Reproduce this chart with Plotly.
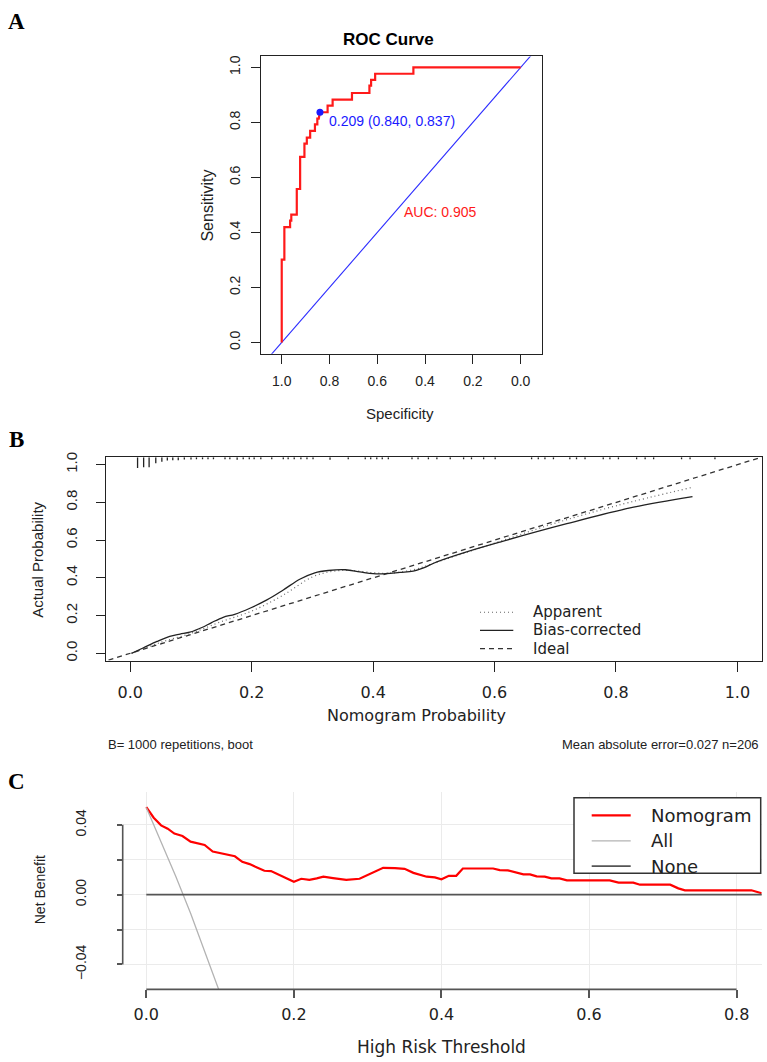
import plotly.graph_objects as go

W, H = 767, 1062

# ---------------- Panel A : ROC curve ----------------
roc_spec = [1.0, 1.0, 0.989, 0.989, 0.965, 0.965, 0.960, 0.960, 0.937, 0.937,
            0.923, 0.923, 0.905, 0.905, 0.895, 0.895, 0.881, 0.881, 0.861, 0.861,
            0.851, 0.851, 0.845, 0.840, 0.808, 0.808, 0.787, 0.787, 0.706, 0.706,
            0.633, 0.633, 0.626, 0.626, 0.609, 0.609, 0.449, 0.449, 0.0]
roc_sens = [0.0, 0.301, 0.301, 0.419, 0.419, 0.443, 0.443, 0.465, 0.465, 0.558,
            0.558, 0.675, 0.675, 0.723, 0.723, 0.745, 0.745, 0.769, 0.769, 0.793,
            0.793, 0.814, 0.814, 0.837, 0.837, 0.861, 0.861, 0.883, 0.883, 0.907,
            0.907, 0.934, 0.934, 0.955, 0.955, 0.977, 0.977, 1.0, 1.0]
diag_spec = [1.1, -0.1]
diag_sens = [-0.1, 1.1]
best_spec = [0.840]
best_sens = [0.837]
best_label = "0.209 (0.840, 0.837)"
auc_label = "AUC: 0.905"
roc_ticks = [0.0, 0.2, 0.4, 0.6, 0.8, 1.0]

# ---------------- Panel B : calibration ----------------
bias_x = [0.002, 0.021, 0.044, 0.065, 0.082, 0.098, 0.118, 0.134, 0.153, 0.172,
          0.197, 0.225, 0.252, 0.280, 0.304, 0.326, 0.354, 0.378, 0.400, 0.422,
          0.444, 0.466, 0.483, 0.505, 0.554, 0.609, 0.719, 0.829, 0.926]
bias_y = [0.000, 0.028, 0.063, 0.090, 0.102, 0.112, 0.137, 0.163, 0.191, 0.207,
          0.239, 0.283, 0.336, 0.394, 0.427, 0.439, 0.443, 0.432, 0.422, 0.422,
          0.429, 0.436, 0.453, 0.485, 0.538, 0.590, 0.687, 0.775, 0.831]
app_x = [0.002, 0.050, 0.100, 0.150, 0.200, 0.250, 0.300, 0.330, 0.360, 0.400,
         0.430, 0.470, 0.500, 0.600, 0.700, 0.800, 0.926]
app_y = [0.000, 0.058, 0.106, 0.168, 0.224, 0.305, 0.405, 0.433, 0.440, 0.427,
         0.425, 0.446, 0.478, 0.584, 0.690, 0.782, 0.880]
ideal_x = [-0.05, 1.05]
ideal_y = [-0.05, 1.05]
rug_x = [0.012, 0.022, 0.031, 0.042, 0.052, 0.061, 0.070, 0.079, 0.089, 0.100,
         0.109, 0.119, 0.128, 0.137, 0.156, 0.164, 0.176, 0.186, 0.196, 0.204,
         0.215, 0.233, 0.252, 0.260, 0.270, 0.281, 0.291, 0.301, 0.329, 0.359,
         0.387, 0.396, 0.406, 0.415, 0.425, 0.464, 0.474, 0.491, 0.505, 0.527,
         0.549, 0.562, 0.582, 0.601, 0.661, 0.672, 0.683, 0.697, 0.724, 0.735,
         0.749, 0.779, 0.790, 0.804, 0.834, 0.848, 0.862, 0.908, 0.922, 0.963]
rug_len = [0.058, 0.053, 0.053, 0.032, 0.024, 0.018, 0.016, 0.016, 0.013, 0.013,
           0.011, 0.011, 0.011, 0.011, 0.011, 0.011, 0.014, 0.011, 0.011, 0.011,
           0.011, 0.011, 0.011, 0.011, 0.011, 0.011, 0.011, 0.011, 0.014, 0.011,
           0.011, 0.011, 0.011, 0.011, 0.011, 0.011, 0.011, 0.011, 0.011, 0.011,
           0.011, 0.011, 0.011, 0.011, 0.011, 0.011, 0.011, 0.011, 0.011, 0.011,
           0.011, 0.011, 0.011, 0.011, 0.011, 0.011, 0.011, 0.011, 0.011, 0.011]
cal_ticks = [0.0, 0.2, 0.4, 0.6, 0.8, 1.0]
legend_b = ["Apparent", "Bias-corrected", "Ideal"]
note_left = "B= 1000 repetitions, boot"
note_right = "Mean absolute error=0.027 n=206"

# ---------------- Panel C : decision curve ----------------
nomo_x = [0.0, 0.010, 0.020, 0.029, 0.038, 0.049, 0.060, 0.070, 0.079, 0.090,
          0.099, 0.111, 0.120, 0.130, 0.140, 0.150, 0.160, 0.169, 0.181, 0.191,
          0.200, 0.210, 0.221, 0.231, 0.240, 0.253, 0.271, 0.289, 0.305, 0.321,
          0.337, 0.350, 0.362, 0.380, 0.391, 0.400, 0.410, 0.420, 0.429, 0.470,
          0.479, 0.490, 0.511, 0.520, 0.529, 0.540, 0.549, 0.560, 0.570, 0.628,
          0.640, 0.660, 0.669, 0.710, 0.721, 0.730, 0.820, 0.834]
nomo_y = [0.0501, 0.0441, 0.0397, 0.0378, 0.0350, 0.0336, 0.0304, 0.0296, 0.0285, 0.0247,
          0.0240, 0.0228, 0.0220, 0.0188, 0.0175, 0.0156, 0.0137, 0.0135, 0.0112, 0.0091,
          0.0074, 0.0091, 0.0085, 0.0093, 0.0103, 0.0095, 0.0085, 0.0091, 0.0122, 0.0154,
          0.0152, 0.0148, 0.0125, 0.0103, 0.0099, 0.0088, 0.0108, 0.0108, 0.0150, 0.0150,
          0.0141, 0.0139, 0.0116, 0.0116, 0.0105, 0.0103, 0.0093, 0.0093, 0.0082, 0.0082,
          0.0069, 0.0069, 0.0057, 0.0057, 0.0036, 0.0025, 0.0025, 0.0008]
all_x = [0.0, 0.02, 0.04, 0.06, 0.08, 0.10, 0.12]
all_y = [0.0500, 0.0306, 0.0104, -0.0106, -0.0326, -0.0556, -0.0795]
none_x = [0.0, 0.9]
none_y = [0.0, 0.0]
dca_xticks = [0.0, 0.2, 0.4, 0.6, 0.8]
dca_yticks = [-0.04, -0.02, 0.0, 0.02, 0.04]
dca_ylabels = ["\u22120.04", "", "0.00", "", "0.04"]
legend_c = ["Nomogram", "All", "None"]

ARIAL = "Liberation Sans, Arial, sans-serif"
DEJAVU = "DejaVu Sans, sans-serif"
SERIF = "Liberation Serif, Times New Roman, serif"

RED = "#ff0000"
ALLGRAY = "#b3b3b3"
NONEGRAY = "#555555"


def px_x(p):
    return p / W


def px_y(p):
    return 1 - p / H


fig = go.Figure()

# ---- A traces
fig.add_trace(go.Scatter(x=diag_spec, y=diag_sens, mode="lines",
                         line=dict(color="#2b2bff", width=1.1),
                         xaxis="x", yaxis="y", showlegend=False, hoverinfo="skip"))
fig.add_trace(go.Scatter(x=roc_spec, y=roc_sens, mode="lines", name="ROC",
                         line=dict(color="#ff1a1a", width=2.2),
                         xaxis="x", yaxis="y", showlegend=False))
fig.add_trace(go.Scatter(x=best_spec, y=best_sens, mode="markers", name="Best threshold",
                         marker=dict(color="#1a1aff", size=7),
                         xaxis="x", yaxis="y", showlegend=False))

# ---- B traces
rx, ry = [], []
for xv, lv in zip(rug_x, rug_len):
    rx += [xv, xv, None]
    ry += [1.04, 1.04 - lv, None]
fig.add_trace(go.Scatter(x=rx, y=ry, mode="lines", line=dict(color="#222222", width=1.3),
                         xaxis="x2", yaxis="y2", showlegend=False, hoverinfo="skip"))
fig.add_trace(go.Scatter(x=ideal_x, y=ideal_y, mode="lines",
                         line=dict(color="#333333", width=1.3, dash="5px,4px"),
                         xaxis="x2", yaxis="y2", showlegend=False, name="Ideal"))
fig.add_trace(go.Scatter(x=app_x, y=app_y, mode="lines", line_shape="spline",
                         line=dict(color="#666666", width=1.2, dash="1px,3px"),
                         xaxis="x2", yaxis="y2", showlegend=False, name="Apparent"))
fig.add_trace(go.Scatter(x=bias_x, y=bias_y, mode="lines", line_shape="spline",
                         line=dict(color="#222222", width=1.3),
                         xaxis="x2", yaxis="y2", showlegend=False, name="Bias-corrected"))

# ---- C traces
fig.add_trace(go.Scatter(x=nomo_x, y=nomo_y, mode="lines", name="Nomogram",
                         line=dict(color=RED, width=2.2),
                         xaxis="x3", yaxis="y3", showlegend=False))
fig.add_trace(go.Scatter(x=all_x, y=all_y, mode="lines", name="All",
                         line=dict(color=ALLGRAY, width=1.3),
                         xaxis="x3", yaxis="y3", showlegend=False))
fig.add_trace(go.Scatter(x=none_x, y=none_y, mode="lines", name="None",
                         line=dict(color=NONEGRAY, width=1.6),
                         xaxis="x3", yaxis="y3", showlegend=False))

axA = dict(showline=True, mirror=True, linecolor="#222222", linewidth=1.2,
           ticks="outside", ticklen=9, tickcolor="#222222", tickwidth=1.2,
           showgrid=False, zeroline=False, tickfont=dict(family=ARIAL, size=14, color="#222222"))
axB = dict(showline=True, mirror=True, linecolor="#222222", linewidth=1.3,
           ticks="outside", ticklen=10, tickcolor="#222222", tickwidth=1.3,
           showgrid=False, zeroline=False)
axC = dict(showline=False, ticks="outside", tickcolor="#555555", tickwidth=1.5,
           showgrid=True, gridcolor="#ebebeb", gridwidth=1, zeroline=False)

fig.update_layout(
    width=W, height=H, margin=dict(l=0, r=0, t=0, b=0),
    paper_bgcolor="white", plot_bgcolor="white", showlegend=False,
    xaxis=dict(axA, domain=[px_x(260.7), px_x(541.7)], range=[1.088, -0.088],
               tickvals=roc_ticks, tickformat=".1f", anchor="y", ticklabelstandoff=5),
    yaxis=dict(axA, domain=[px_y(350.7), px_y(51.7)], range=[-0.041, 1.04],
               tickvals=roc_ticks, tickformat=".1f", anchor="x", tickangle=-90,
               ticklabelstandoff=5),
    xaxis2=dict(axB, domain=[px_x(106), px_x(761.7)], range=[-0.04, 1.04],
                tickvals=cal_ticks, tickformat=".1f", anchor="y2",
                tickfont=dict(family=DEJAVU, size=16, color="#222222"), ticklabelstandoff=7),
    yaxis2=dict(axB, domain=[px_y(659.3), px_y(454.7)], range=[-0.0385, 1.04],
                tickvals=cal_ticks, tickformat=".1f", anchor="x2", tickangle=-90, ticklen=9,
                tickfont=dict(family=ARIAL, size=15, color="#222222"), ticklabelstandoff=13),
    xaxis3=dict(axC, domain=[px_x(122.7), px_x(761.7)], range=[-0.032, 0.834],
                tickvals=dca_xticks, tickformat=".1f", anchor="y3", ticklen=8,
                tickfont=dict(family=DEJAVU, size=16, color="#222222"), ticklabelstandoff=2),
    yaxis3=dict(axC, domain=[px_y(990), px_y(791.7)], range=[-0.0543, 0.0587],
                tickvals=dca_yticks, ticktext=dca_ylabels, anchor="x3", tickangle=-90, ticklen=5,
                tickfont=dict(family=ARIAL, size=14, color="#222222"), ticklabelstandoff=25),
)

shapes = []
# C axis lines (R style: only between first and last tick)
shapes.append(dict(type="line", xref="x3", yref="y3 domain", x0=0.0, x1=0.8, y0=0, y1=0,
                   line=dict(color=NONEGRAY, width=1.6)))
shapes.append(dict(type="line", xref="x3 domain", yref="y3", x0=0, x1=0, y0=-0.04, y1=0.04,
                   line=dict(color=NONEGRAY, width=1.6)))
# B legend keys
leg_rows_b = [610.7, 629.0, 647.3]
leg_styles_b = [dict(color="#666666", width=1.2, dash="1px,3px"),
                dict(color="#222222", width=1.3),
                dict(color="#333333", width=1.3, dash="5px,4px")]
for yy, st in zip(leg_rows_b, leg_styles_b):
    shapes.append(dict(type="line", xref="paper", yref="paper",
                       x0=px_x(480), x1=px_x(513.3), y0=px_y(yy), y1=px_y(yy), line=st))
# C legend box and keys
shapes.append(dict(type="rect", xref="paper", yref="paper", layer="above",
                   x0=px_x(574), x1=px_x(760.7), y0=px_y(873.3), y1=px_y(797.3),
                   line=dict(color="#333333", width=1.5), fillcolor="white"))
leg_rows_c = [815.0, 840.7, 866.0]
leg_styles_c = [dict(color=RED, width=2.2), dict(color=ALLGRAY, width=1.3),
                dict(color=NONEGRAY, width=1.6)]
for yy, st in zip(leg_rows_c, leg_styles_c):
    shapes.append(dict(type="line", xref="paper", yref="paper", layer="above",
                       x0=px_x(591.7), x1=px_x(630.7), y0=px_y(yy), y1=px_y(yy), line=st))
fig.update_layout(shapes=shapes)

ann = []


def label(text, x, y, size, family=ARIAL, angle=0, xanchor="center", bold=False, color="#222222"):
    ann.append(dict(text=("<b>%s</b>" % text) if bold else text, x=px_x(x), y=px_y(y),
                    xref="paper", yref="paper", showarrow=False, textangle=angle,
                    xanchor=xanchor, yanchor="middle",
                    font=dict(family=family, size=size, color=color)))


# panel letters
label("A", 16, 17, 23, family=SERIF, bold=True, color="black")
label("B", 16, 437, 23, family=SERIF, bold=True, color="black")
label("C", 16, 781, 23, family=SERIF, bold=True, color="black")
# A texts
label("ROC Curve", 388, 35, 17, bold=True, color="black")
label("Sensitivity", 208, 201.7, 16, angle=-90)
label("Specificity", 400.5, 411, 15)
ann.append(dict(text=best_label, x=0.812, y=0.804, xref="x", yref="y", showarrow=False,
                xanchor="left", yanchor="middle",
                font=dict(family=ARIAL, size=14, color="#1a1aff")))
ann.append(dict(text=auc_label, x=0.498, y=0.476, xref="x", yref="y", showarrow=False,
                xanchor="left", yanchor="middle",
                font=dict(family=ARIAL, size=14, color="#ff1a1a")))
# B texts
label("Actual Probability", 38, 558, 15, angle=-90)
label("Nomogram Probability", 416, 715, 16, family=DEJAVU)
label(note_left, 106, 744, 13, xanchor="left")
label(note_right, 760.7, 744, 13, xanchor="right")
for yy, t in zip(leg_rows_b, legend_b):
    label(t, 530.7, yy, 15, family=DEJAVU, xanchor="left")
# C texts
label("Net Benefit", 40, 890.3, 14, angle=-90)
label("High Risk Threshold", 441.7, 1048, 17, family=DEJAVU)
for yy, t in zip(leg_rows_c, legend_c):
    label(t, 649.3, yy, 18, family=DEJAVU, xanchor="left")
fig.update_layout(annotations=ann)

fig.write_html("out.html")
